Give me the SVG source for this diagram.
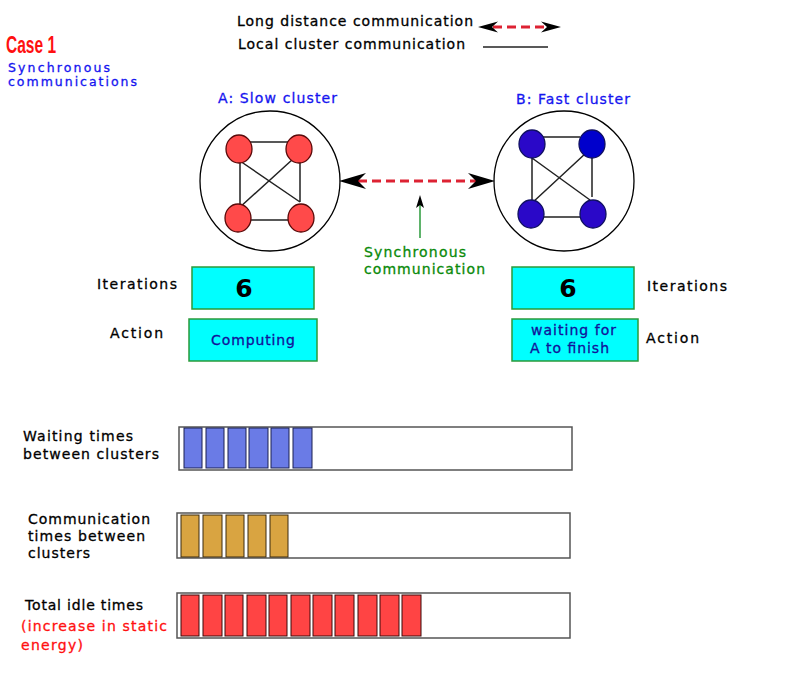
<svg xmlns="http://www.w3.org/2000/svg" width="800" height="698" viewBox="0 0 800 698">
<style>
text{font-family:"DejaVu Sans","Liberation Sans",sans-serif;font-size:14px;fill:#000;stroke:#000;stroke-width:0.3}
.blue{fill:#1515f0;stroke:#1515f0}
.green{fill:#0a8a0a;stroke:#0a8a0a}
.red{fill:#ff1010;stroke:#ff1010}
.navy{fill:#12129a;stroke:#12129a}
.num{font-size:25px;font-weight:bold;stroke:none}
.cl{fill:#fff;stroke:#000;stroke-width:1.3}
.na{fill:#ff4a4a;stroke:#5a0a0a;stroke-width:1.3}
.nb{fill:#2a08c8;stroke:#101060;stroke-width:1.3}
.edge{stroke:#222;stroke-width:1.5;fill:none}
.box{fill:#00ffff;stroke:#2a9a3a;stroke-width:1.5}
.bar{fill:#fff;stroke:#555;stroke-width:1.5}
.wb{fill:#6a7be6;stroke:#1a2050;stroke-width:1}
.cb{fill:#d9a441;stroke:#3a2a10;stroke-width:1}
.ib{fill:#ff4444;stroke:#3a0a0a;stroke-width:1}
.dash{stroke:#dd2233;stroke-width:3;stroke-dasharray:9 5;fill:none}
</style>

<g id="title">
<text x="6" y="53" class="red" style="font-family:'Liberation Sans',sans-serif;font-size:24px;font-weight:bold;stroke:none" textLength="50" lengthAdjust="spacingAndGlyphs">Case 1</text>
<text x="8" y="72" class="blue" style="font-size:12.5px" textLength="102">Synchronous</text>
<text x="8" y="86" class="blue" style="font-size:12.5px" textLength="129">communications</text>
</g>

<g id="legend">
<text x="237" y="26" textLength="236">Long distance communication</text>
<text x="238" y="49" textLength="227">Local cluster communication</text>
<line x1="493" y1="27" x2="546" y2="27" class="dash"/>
<path d="M478,27 L498,21.5 L492,27 L498,32.5 Z" fill="#000"/>
<path d="M561,27 L541,21.5 L547,27 L541,32.5 Z" fill="#000"/>
<line x1="483" y1="47" x2="548" y2="47" stroke="#222" stroke-width="1.5"/>
</g>

<g id="clusterA">
<text x="218" y="103" class="blue" textLength="119">A: Slow cluster</text>
<circle cx="270" cy="181" r="70" class="cl"/>
<path class="edge" d="M248,142 H290 M240,161 V210 M300,161 V202 M240,161 L300,202 M293,159 L239,208 M248,220 H290"/>
<ellipse cx="239" cy="149" rx="13" ry="14" class="na"/>
<ellipse cx="299" cy="149" rx="13" ry="14" class="na"/>
<ellipse cx="238" cy="218" rx="13" ry="14" class="na"/>
<ellipse cx="301" cy="218" rx="13" ry="14" class="na"/>
</g>

<g id="clusterB">
<text x="516" y="104" class="blue" textLength="114">B: Fast cluster</text>
<circle cx="564" cy="181" r="70" class="cl"/>
<path class="edge" d="M543,137 H580 M532,158 V205 M592,158 V197 M532,158 L590,200 M586,153 L532,203 M540,217 H580"/>
<ellipse cx="532" cy="144" rx="13" ry="14" class="nb"/>
<ellipse cx="592" cy="144" rx="13" ry="14" fill="#0000cc" stroke="#101060" stroke-width="1.3"/>
<ellipse cx="531" cy="214" rx="13" ry="14" class="nb"/>
<ellipse cx="593" cy="214" rx="13" ry="14" class="nb"/>
</g>

<g id="connectors">
<line x1="358" y1="181" x2="476" y2="181" class="dash"/>
<path d="M339,181 L366,173 L358,181 L366,189 Z" fill="#000"/>
<path d="M495,181 L468,173 L476,181 L468,189 Z" fill="#000"/>
<line x1="420" y1="238" x2="420" y2="203" stroke="#2a9a3a" stroke-width="1.5"/>
<path d="M420,195 L424,208 L420,205 L416,208 Z" fill="#000"/>
</g>

<g id="syncLabel">
<text x="364" y="257" class="green" textLength="102">Synchronous</text>
<text x="364" y="274" class="green" textLength="121">communication</text>
</g>

<g id="iterA">
<text x="97" y="289" textLength="80">Iterations</text>
<rect x="192" y="267" width="122" height="42" class="box"/>
<text x="244" y="297" class="num" text-anchor="middle">6</text>
</g>
<g id="actionA">
<text x="110" y="338" textLength="53">Action</text>
<rect x="189" y="319" width="128" height="42" class="box"/>
<text x="211" y="345" class="navy" textLength="84">Computing</text>
</g>

<g id="iterB">
<rect x="512" y="267" width="122" height="42" class="box"/>
<text x="568" y="297" class="num" text-anchor="middle">6</text>
<text x="647" y="291" textLength="80">Iterations</text>
</g>
<g id="actionB">
<rect x="512" y="319" width="126" height="42" class="box"/>
<text x="531" y="335" class="navy" textLength="85">waiting for</text>
<text x="530" y="353" class="navy" textLength="79">A to finish</text>
<text x="646" y="343" textLength="53">Action</text>
</g>

<g id="waitingBar">
<text x="23" y="441" textLength="110">Waiting times</text>
<text x="23" y="459" textLength="136">between clusters</text>
<rect x="179" y="427" width="393" height="43" class="bar"/>
<rect x="184" y="428" width="18" height="40" class="wb"/>
<rect x="206" y="428" width="18" height="40" class="wb"/>
<rect x="228" y="428" width="18" height="40" class="wb"/>
<rect x="249" y="428" width="19" height="40" class="wb"/>
<rect x="271" y="428" width="18" height="40" class="wb"/>
<rect x="293" y="428" width="19" height="40" class="wb"/>
</g>

<g id="commBar">
<text x="28" y="524" textLength="122">Communication</text>
<text x="28" y="541" textLength="117">times between</text>
<text x="28" y="558" textLength="62">clusters</text>
<rect x="177" y="513" width="393" height="45" class="bar"/>
<rect x="181" y="515" width="18" height="42" class="cb"/>
<rect x="203" y="515" width="19" height="42" class="cb"/>
<rect x="226" y="515" width="18" height="42" class="cb"/>
<rect x="248" y="515" width="18" height="42" class="cb"/>
<rect x="270" y="515" width="18" height="42" class="cb"/>
</g>

<g id="idleBar">
<text x="25" y="610" textLength="118">Total idle times</text>
<text x="21" y="631" class="red" textLength="146">(increase in static</text>
<text x="21" y="650" class="red" textLength="62">energy)</text>
<rect x="177" y="593" width="393" height="45" class="bar"/>
<rect x="181" y="595" width="18" height="41" class="ib"/>
<rect x="203" y="595" width="19" height="41" class="ib"/>
<rect x="225" y="595" width="18" height="41" class="ib"/>
<rect x="247" y="595" width="19" height="41" class="ib"/>
<rect x="269" y="595" width="18" height="41" class="ib"/>
<rect x="291" y="595" width="19" height="41" class="ib"/>
<rect x="313" y="595" width="19" height="41" class="ib"/>
<rect x="335" y="595" width="19" height="41" class="ib"/>
<rect x="358" y="595" width="19" height="41" class="ib"/>
<rect x="380" y="595" width="19" height="41" class="ib"/>
<rect x="402" y="595" width="19" height="41" class="ib"/>
</g>
</svg>
